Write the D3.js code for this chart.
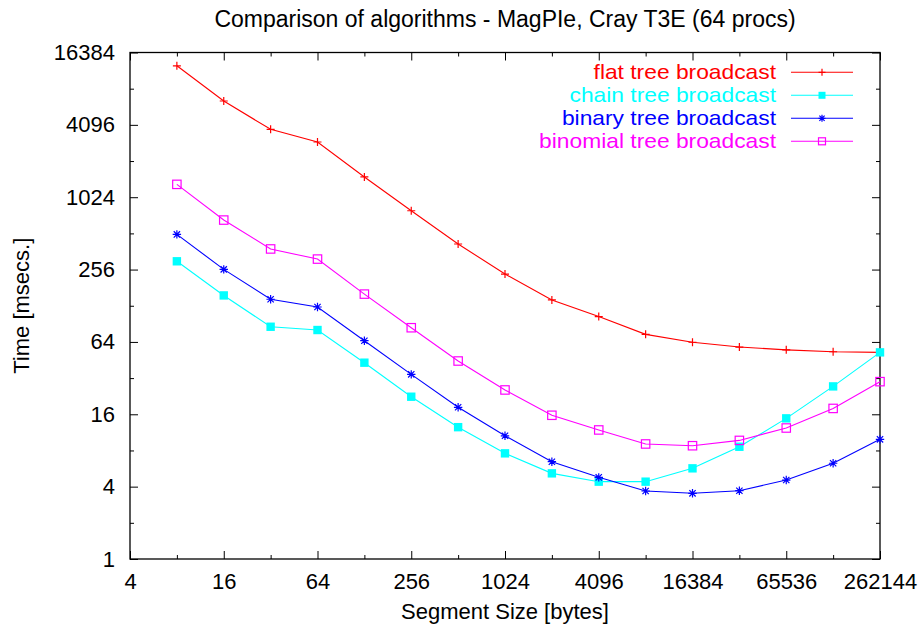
<!DOCTYPE html>
<html>
<head>
<meta charset="utf-8">
<script src="https://cdn.jsdelivr.net/npm/d3@7"></script>
<style>
  html, body { margin: 0; padding: 0; background: #fff; }
  svg { display: block; }
  text { font-family: "Liberation Sans", Arial, Helvetica, sans-serif; }
</style>
</head>
<body>
<svg id="chart" width="924" height="634"></svg>
<script>
// Segment sizes (bytes) on the x axis
const segmentSizes = [8, 16, 32, 64, 128, 256, 512, 1024, 2048, 4096, 8192, 16384, 32768, 65536, 131072, 262144];

// Broadcast times (msecs.) per algorithm
const flatTree     = [12700, 6470, 3760, 2950, 1510, 790, 418, 235, 143, 104, 74, 63.6, 58, 55, 53, 52.4];
const chainTree    = [300, 156, 85.6, 80.4, 43, 22.4, 12.5, 7.57, 5.16, 4.4, 4.4, 5.68, 8.59, 14.8, 27.3, 52.4];
const binaryTree   = [502, 257, 145, 125, 65.5, 34.4, 18.3, 10.6, 6.45, 4.78, 3.68, 3.52, 3.70, 4.54, 6.26, 9.9];
const binomialTree = [1310, 661, 380, 313, 160, 84, 44.4, 25.5, 15.7, 11.85, 9.06, 8.76, 9.7, 12.3, 17.9, 29.9];

// Tick values
const xTickLabels = [4, 16, 64, 256, 1024, 4096, 16384, 65536, 262144];
const xMinorTicks = [8, 32, 128, 512, 2048, 8192, 32768, 131072];
const yTickLabels = [1, 4, 16, 64, 256, 1024, 4096, 16384];
const yMinorTicks = [2, 8, 32, 128, 512, 2048, 8192];

const seriesNames = ["flat tree broadcast", "chain tree broadcast", "binary tree broadcast", "binomial tree broadcast"];
const seriesColors = ["#ff0000", "#00ffff", "#0000ff", "#ff00ff"];
const seriesMarkers = ["plus", "filledSquare", "star", "openSquare"];

const series = [flatTree, chainTree, binaryTree, binomialTree].map((vals, i) => ({
  name: seriesNames[i], color: seriesColors[i], marker: seriesMarkers[i],
  points: vals.map((v, j) => ({ x: segmentSizes[j], y: v }))
}));

const svg = d3.select("#chart");
const plotLeft = 130, plotRight = 880, plotTop = 52.5, plotBottom = 559;

const x = d3.scaleLog().base(2).domain([4, 262144]).range([plotLeft, plotRight]);
const y = d3.scaleLog().base(2).domain([1, 16384]).range([plotBottom, plotTop]);

const fontSize = 22;

// Title
svg.append("text")
  .attr("x", (plotLeft + plotRight) / 2).attr("y", 27)
  .attr("text-anchor", "middle")
  .style("font-size", "23px")
  .text("Comparison of algorithms - MagPIe, Cray T3E (64 procs)");

// Axes: labelled major ticks and unlabelled minor ticks, all pointing inward
function styleAxis(g) {
  g.select(".domain").remove();
  g.selectAll(".tick line").attr("stroke", "#000");
  g.selectAll(".tick text").attr("fill", "#000").style("font-size", fontSize + "px").style("font-family", '"Liberation Sans", Arial, sans-serif');
}

svg.append("g").attr("transform", `translate(0,${plotBottom})`)
  .call(d3.axisBottom(x).tickValues(xTickLabels).tickFormat(d3.format("d")).tickSizeInner(-8).tickSizeOuter(0).tickPadding(14))
  .call(styleAxis);
svg.append("g").attr("transform", `translate(0,${plotBottom})`)
  .call(d3.axisBottom(x).tickValues(xMinorTicks).tickFormat("").tickSizeInner(-4).tickSizeOuter(0))
  .call(styleAxis);
svg.append("g").attr("transform", `translate(0,${plotTop})`)
  .call(d3.axisTop(x).tickValues(xTickLabels).tickFormat("").tickSizeInner(-8).tickSizeOuter(0))
  .call(styleAxis);
svg.append("g").attr("transform", `translate(0,${plotTop})`)
  .call(d3.axisTop(x).tickValues(xMinorTicks).tickFormat("").tickSizeInner(-4).tickSizeOuter(0))
  .call(styleAxis);

svg.append("g").attr("transform", `translate(${plotLeft},0)`)
  .call(d3.axisLeft(y).tickValues(yTickLabels).tickFormat(d3.format("d")).tickSizeInner(-8).tickSizeOuter(0).tickPadding(15))
  .call(styleAxis);
svg.append("g").attr("transform", `translate(${plotLeft},0)`)
  .call(d3.axisLeft(y).tickValues(yMinorTicks).tickFormat("").tickSizeInner(-4).tickSizeOuter(0))
  .call(styleAxis);
svg.append("g").attr("transform", `translate(${plotRight},0)`)
  .call(d3.axisRight(y).tickValues(yTickLabels).tickFormat("").tickSizeInner(-8).tickSizeOuter(0))
  .call(styleAxis);
svg.append("g").attr("transform", `translate(${plotRight},0)`)
  .call(d3.axisRight(y).tickValues(yMinorTicks).tickFormat("").tickSizeInner(-4).tickSizeOuter(0))
  .call(styleAxis);

// Frame
svg.append("rect")
  .attr("x", plotLeft).attr("y", plotTop)
  .attr("width", plotRight - plotLeft).attr("height", plotBottom - plotTop)
  .attr("fill", "none").attr("stroke", "#000").attr("stroke-width", 1.3);

// Axis titles
svg.append("text")
  .attr("x", (plotLeft + plotRight) / 2).attr("y", 619)
  .attr("text-anchor", "middle")
  .style("font-size", fontSize + "px")
  .text("Segment Size [bytes]");
svg.append("text")
  .attr("transform", `translate(29,${(plotTop + plotBottom) / 2}) rotate(-90)`)
  .attr("text-anchor", "middle")
  .style("font-size", fontSize + "px")
  .text("Time [msecs.]");

// Point markers
function drawMarker(g, type, color, cx, cy, s) {
  if (type === "plus") {
    g.append("path").attr("d", `M${cx - s},${cy}H${cx + s}M${cx},${cy - s}V${cy + s}`)
      .attr("stroke", color).attr("stroke-width", 1.2).attr("fill", "none");
  } else if (type === "filledSquare") {
    g.append("rect").attr("x", cx - s).attr("y", cy - s).attr("width", 2 * s).attr("height", 2 * s)
      .attr("fill", color);
  } else if (type === "star") {
    const d = s * 0.75;
    g.append("path")
      .attr("d", `M${cx - s},${cy}H${cx + s}M${cx},${cy - s}V${cy + s}M${cx - d},${cy - d}L${cx + d},${cy + d}M${cx - d},${cy + d}L${cx + d},${cy - d}`)
      .attr("stroke", color).attr("stroke-width", 1.2).attr("fill", "none");
  } else if (type === "openSquare") {
    g.append("rect").attr("x", cx - s).attr("y", cy - s).attr("width", 2 * s).attr("height", 2 * s)
      .attr("fill", "none").attr("stroke", color).attr("stroke-width", 1.2);
  }
}
const markerSize = { plus: 4, filledSquare: 4.2, star: 4.2, openSquare: 4.2 };

const line = d3.line().x(d => x(d.x)).y(d => y(d.y));
const plot = svg.append("g");
series.forEach(s => {
  const g = plot.append("g");
  g.append("path").datum(s.points).attr("d", line)
    .attr("fill", "none").attr("stroke", s.color).attr("stroke-width", 1.1);
  s.points.forEach(p => drawMarker(g, s.marker, s.color, x(p.x), y(p.y), markerSize[s.marker]));
});

// Legend: key text is set slightly wide, right-aligned against the sample lines
const legend = svg.append("g");
series.forEach((s, i) => {
  const ly = 72.3 + i * 23;
  legend.append("text")
    .attr("transform", `translate(776,${ly}) scale(1.14,1)`)
    .attr("dy", "0.35em")
    .attr("text-anchor", "end")
    .attr("fill", s.color)
    .style("font-size", "20px")
    .text(s.name);
  legend.append("line")
    .attr("x1", 791).attr("x2", 853).attr("y1", ly).attr("y2", ly)
    .attr("stroke", s.color).attr("stroke-width", 1.1);
  drawMarker(legend, s.marker, s.color, 822, ly, 3.5);
});
</script>
</body>
</html>
